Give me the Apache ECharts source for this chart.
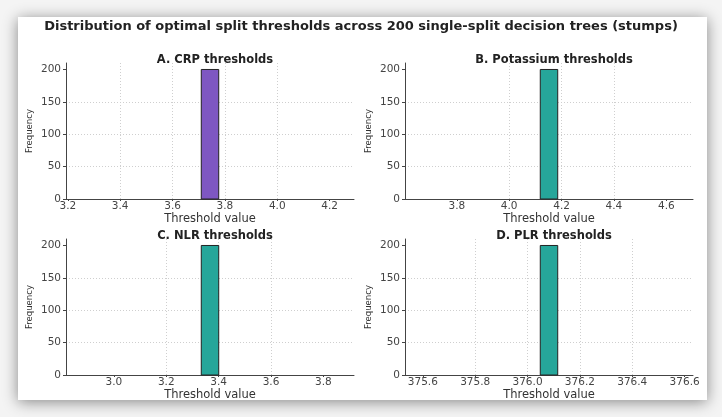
<!DOCTYPE html>
<html>
<head>
<meta charset="utf-8">
<script src="https://cdn.jsdelivr.net/npm/echarts@6/dist/echarts.min.js"></script>
<style>
html, body { margin: 0; padding: 0; background: #fff; }
#chart { width: 722px; height: 417px; }
</style>
</head>
<body>
<div id="chart"></div>
<script>
// data
var mainTitle = 'Distribution of optimal split thresholds across 200 single-split decision trees (stumps)';
var panelTitles = ['A. CRP thresholds', 'B. Potassium thresholds', 'C. NLR thresholds', 'D. PLR thresholds'];
var thresholds = [3.743, 4.152, 3.367, 376.082];   // every stump picked the same value
var frequencies = [200, 200, 200, 200];
var binCount = 15;
var yTicks = [0, 50, 100, 150, 200];
var xTicks = [
    [3.2, 3.4, 3.6, 3.8, 4.0, 4.2],
    [3.8, 4.0, 4.2, 4.4, 4.6],
    [3.0, 3.2, 3.4, 3.6, 3.8],
    [375.6, 375.8, 376.0, 376.2, 376.4, 376.6]
];

var barColors = ['#7e57c2', '#26a69a', '#26a69a', '#26a69a'];
var gridPos = [
    { left: 66, top: 63, width: 288, height: 136 },
    { left: 405, top: 63, width: 288, height: 136 },
    { left: 66, top: 239, width: 288, height: 136 },
    { left: 405, top: 239, width: 288, height: 136 }
];
var font = 'DejaVu Sans';
var gridLine = { color: '#cfcfcf', type: [1, 2], width: 1 };

// histogram like matplotlib: identical values -> range [v-0.5, v+0.5]
function histBins(v, count) {
    var lo = v - 0.5, w = 1 / binCount;
    var idx = Math.min(binCount - 1, Math.floor((v - lo) / w));
    return [[lo + idx * w, lo + (idx + 1) * w, count]];
}

var chart = echarts.init(document.getElementById('chart'));

var grids = [], xAxes = [], yAxes = [], series = [], titles = [];

titles.push({
    text: mainTitle, left: 'center', top: 15,
    textStyle: { fontFamily: font, fontSize: 13, fontWeight: 'bold', color: '#222' }
});

for (var i = 0; i < 4; i++) {
    var g = gridPos[i];
    grids.push({ left: g.left, top: g.top, width: g.width, height: g.height });
    titles.push({
        text: panelTitles[i],
        left: g.left + g.width / 2, top: g.top - 14, textAlign: 'center',
        textStyle: { fontFamily: font, fontSize: 11.5, fontWeight: 'bold', color: '#222' }
    });
    var v = thresholds[i];
    xAxes.push({
        type: 'value', gridIndex: i,
        min: v - 0.55, max: v + 0.55,
        name: 'Threshold value', nameLocation: 'middle', nameGap: 11,
        nameTextStyle: { fontFamily: font, fontSize: 11.5, color: '#333' },
        axisLine: { lineStyle: { color: '#444', width: 1 } },
        axisTick: { show: true, customValues: xTicks[i], length: 2, lineStyle: { color: '#444' } },
        axisLabel: {
            customValues: xTicks[i], margin: 2,
            fontFamily: font, fontSize: 10.5, color: '#444',
            formatter: function (val) { return val.toFixed(1); }
        },
        splitLine: {
            show: true, showMinLine: false, showMaxLine: false,
            lineStyle: gridLine
        }
    });
    yAxes.push({
        type: 'value', gridIndex: i,
        min: 0, max: 210, interval: 50,
        name: 'Frequency', nameLocation: 'middle', nameGap: 31,
        nameTextStyle: { fontFamily: 'DejaVu Sans Condensed', fontSize: 9.5, color: '#333' },
        axisLine: { show: true, lineStyle: { color: '#444', width: 1 } },
        axisTick: { show: true, customValues: yTicks, length: 3, lineStyle: { color: '#444' } },
        axisLabel: {
            customValues: yTicks, margin: 5,
            fontFamily: font, fontSize: 10.5, color: '#444'
        },
        splitLine: {
            show: true, showMinLine: false, showMaxLine: false,
            lineStyle: gridLine
        }
    });
    series.push({
        type: 'custom', xAxisIndex: i, yAxisIndex: i,
        data: histBins(v, frequencies[i]),
        encode: { x: [0, 1], y: 2 },
        itemStyle: { color: barColors[i] },
        renderItem: function (params, api) {
            var p0 = api.coord([api.value(0), 0]);
            var p1 = api.coord([api.value(1), api.value(2)]);
            return {
                type: 'rect',
                shape: { x: p0[0], y: p1[1], width: p1[0] - p0[0], height: p0[1] - p1[1] },
                style: { fill: api.visual('color'), stroke: '#222', lineWidth: 1 }
            };
        }
    });
}

chart.setOption({
    backgroundColor: '#f4f4f4',
    animation: false,
    graphic: [{
        type: 'rect', z: -10, silent: true,
        shape: { x: 18, y: 17, width: 689, height: 383 },
        style: { fill: '#fff', shadowBlur: 14, shadowColor: 'rgba(0,0,0,0.45)', shadowOffsetX: 0, shadowOffsetY: 2 }
    }],
    title: titles,
    grid: grids,
    xAxis: xAxes,
    yAxis: yAxes,
    series: series
});
</script>
</body>
</html>
